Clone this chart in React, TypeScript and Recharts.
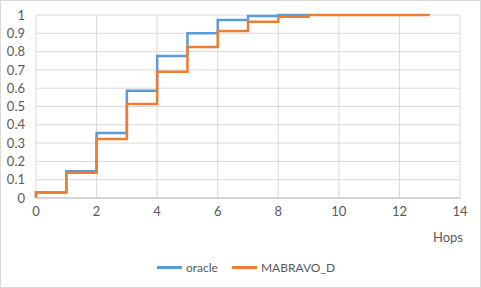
import React from 'react';
import { LineChart, Line, XAxis, YAxis, CartesianGrid, Legend } from 'recharts';

const hops = [0, 0, 1, 2, 3, 4, 5, 6, 7, 8, 9];
const oracleValues = [0, 0.03, 0.146, 0.355, 0.586, 0.776, 0.9, 0.973, 0.995, 1.0, 1.0];

const hopsD = [0, 0, 1, 2, 3, 4, 5, 6, 7, 8, 9, 10, 11, 12, 13];
const mabravoValues = [0, 0.03, 0.138, 0.322, 0.514, 0.69, 0.825, 0.913, 0.963, 0.99, 1.0, 1.0, 1.0, 1.0, 1.0];

const xTicks = [0, 2, 4, 6, 8, 10, 12, 14];
const yTicks = [0, 0.1, 0.2, 0.3, 0.4, 0.5, 0.6, 0.7, 0.8, 0.9, 1];

const oracleData = hops.map((x, i) => ({ x, y: oracleValues[i] }));
const mabravoData = hopsD.map((x, i) => ({ x, y: mabravoValues[i] }));

const BLUE = '#5B9BD5';
const ORANGE = '#ED7D31';
const TEXT = '#595959';
const FONT = 'Lato, sans-serif';

const legendItems = [
  { name: 'oracle', color: BLUE },
  { name: 'MABRAVO_D', color: ORANGE },
];

const LegendContent = () => (
  <div style={{ height: 30, paddingLeft: 26, display: 'flex', justifyContent: 'center', alignItems: 'flex-start', fontFamily: FONT, fontSize: 12, color: TEXT }}>
    {legendItems.map((it, i) => (
      <div key={it.name} style={{ display: 'flex', alignItems: 'center', marginLeft: i === 0 ? 0 : 14, marginTop: 2 }}>
        <div style={{ width: 25, height: 2.5, background: it.color, marginRight: 4 }} />
        <span>{it.name}</span>
      </div>
    ))}
  </div>
);

const HopsLabel = (props: any) => {
  const vb = props.viewBox || {};
  return (
    <text x={vb.x + vb.width + 3} y={vb.y + 44} textAnchor="end" fill={TEXT} fontSize={13} fontFamily={FONT}>
      Hops
    </text>
  );
};

export default function App() {
  return (
    <div style={{ position: 'fixed', left: 0, top: 0, width: 481, height: 288, boxSizing: 'border-box', border: '1px solid #d9d9d9', background: '#fff' }}>
      <div style={{ position: 'absolute', left: -1, top: -1 }}>
        <LineChart width={481} height={288} margin={{ top: 15, right: 21, bottom: 0, left: 6 }}>
          <CartesianGrid stroke="#d9d9d9" strokeWidth={1} />
          <XAxis
            type="number"
            dataKey="x"
            domain={[0, 14]}
            ticks={xTicks}
            interval={0}
            allowDuplicatedCategory={false}
            height={60}
            stroke="#bfbfbf"
            tickLine={false}
            tickSize={0}
            tickMargin={9}
            tick={{ fill: TEXT, fontSize: 13, fontFamily: FONT }}
            label={<HopsLabel />}
          />
          <YAxis
            type="number"
            domain={[0, 1]}
            ticks={yTicks}
            interval={0}
            width={30}
            axisLine={false}
            tickLine={false}
            tickSize={0}
            tickMargin={11}
            tick={{ fill: TEXT, fontSize: 13, fontFamily: FONT }}
          />
          <Legend verticalAlign="bottom" content={<LegendContent />} />
          <Line data={oracleData} dataKey="y" name="oracle" type="stepAfter" stroke={BLUE} strokeWidth={2.5} dot={false} isAnimationActive={false} />
          <Line data={mabravoData} dataKey="y" name="MABRAVO_D" type="stepAfter" stroke={ORANGE} strokeWidth={2.5} dot={false} isAnimationActive={false} />
        </LineChart>
      </div>
    </div>
  );
}
